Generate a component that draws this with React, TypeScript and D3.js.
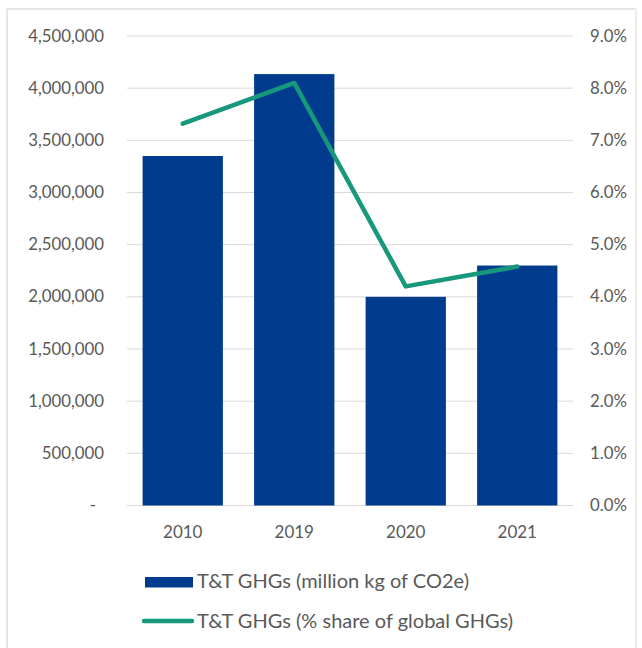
import React from "react";
import * as d3 from "d3";

const categories = ["2010", "2019", "2020", "2021"];
const ghgValues = [3350000, 4135000, 2000000, 2300000];
const shareValues = [7.32, 8.1, 4.2, 4.58];
const leftTicks = [0, 500000, 1000000, 1500000, 2000000, 2500000, 3000000, 3500000, 4000000, 4500000];
const rightTicks = [0, 1, 2, 3, 4, 5, 6, 7, 8, 9];
const legendLabels = ["T&T GHGs (million kg of CO2e)", "T&T GHGs (% share of global GHGs)"];

const W = 642, H = 648;
const plotL = 127, plotR = 573, plotT = 36, plotB = 505.5;
const barColor = "#003b8d";
const lineColor = "#17977b";
const textColor = "#595959";
const font = "Lato, 'Open Sans', sans-serif";

export default function App() {
  const x = d3.scaleBand<string>().domain(categories).range([plotL, plotR]).paddingInner(0.28).paddingOuter(0.14);
  const yL = d3.scaleLinear().domain([0, 4500000]).range([plotB, plotT]);
  const yR = d3.scaleLinear().domain([0, 9]).range([plotB, plotT]);
  const fmtL = (v: number) => (v === 0 ? "-" : d3.format(",")(v));
  const fmtR = (v: number) => d3.format(".1f")(v) + "%";
  const line = d3.line<number>()
    .x((_, i) => (x(categories[i]) as number) + x.bandwidth() / 2)
    .y((d) => yR(d));

  return (
    <svg width={W} height={H} style={{ position: "absolute", left: 0, top: 0, background: "#fff" }}>
      <rect x={0} y={0} width={W} height={H} fill="#fff" />
      {/* frame */}
      <line x1={7} y1={9} x2={636} y2={9} stroke="#dcdcdc" strokeWidth={1.5} />
      <line x1={7} y1={9} x2={7} y2={H} stroke="#dcdcdc" strokeWidth={1.5} />
      <line x1={636} y1={9} x2={636} y2={H} stroke="#e6e6e6" strokeWidth={1.5} />
      {/* gridlines */}
      {leftTicks.map((t) => (
        <line key={t} x1={plotL} x2={plotR} y1={yL(t)} y2={yL(t)} stroke="#d9d9d9" strokeWidth={1} />
      ))}
      {/* bars */}
      {categories.map((c, i) => (
        <rect key={c} x={x(c)} y={yL(ghgValues[i])} width={x.bandwidth()} height={plotB - yL(ghgValues[i])} fill={barColor} />
      ))}
      {/* line */}
      <path d={line(shareValues) || ""} fill="none" stroke={lineColor} strokeWidth={4.5} strokeLinejoin="round" strokeLinecap="round" />
      {/* left axis */}
      {leftTicks.map((t) => (
        <text key={t} x={t === 0 ? 96 : 104} y={yL(t) + 5.5} textAnchor="end" fontFamily={font} fontSize={16.8} fill={textColor}>
          {fmtL(t)}
        </text>
      ))}
      {/* right axis */}
      {rightTicks.map((t) => (
        <text key={t} x={590} y={yR(t) + 5.5} textAnchor="start" fontFamily={font} fontSize={16.8} fill={textColor}>
          {fmtR(t)}
        </text>
      ))}
      {/* x axis */}
      {categories.map((c) => (
        <text key={c} x={(x(c) as number) + x.bandwidth() / 2} y={537.5} textAnchor="middle" fontFamily={font} fontSize={17} fill={textColor}>
          {c}
        </text>
      ))}
      {/* legend */}
      <rect x={145} y={577} width={48} height={10.5} fill={barColor} />
      <text x={197} y={588} fontFamily={font} fontSize={20} fill={textColor}>{legendLabels[0]}</text>
      <line x1={144} x2={192} y1={621} y2={621} stroke={lineColor} strokeWidth={4.5} strokeLinecap="round" />
      <text x={197} y={627.5} fontFamily={font} fontSize={20} fill={textColor}>{legendLabels[1]}</text>
    </svg>
  );
}
